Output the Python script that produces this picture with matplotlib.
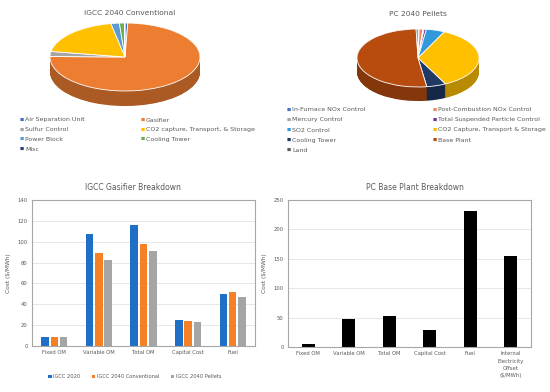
import numpy as np
import matplotlib
matplotlib.use("Agg")
import matplotlib.pyplot as plt
from matplotlib.colors import to_rgb

# ---- data ----
igcc_labels = ["Air Separation Unit", "Gasifier", "Sulfur Control",
               "CO2 capture, Transport, & Storage", "Power Block",
               "Cooling Tower", "Misc"]
igcc_share = [0.6, 74.7, 2.4, 19.4, 1.8, 1.1, 0.1]
igcc_colors = ["#4472C4", "#ED7D31", "#A5A5A5", "#FFC000", "#5B9BD5",
               "#70AD47", "#264478"]

pc_labels = ["In-Furnace NOx Control", "Post-Combustion NOx Control",
             "Mercury Control", "Total Suspended Particle Control",
             "SO2 Control", "CO2 Capture, Transport & Storage",
             "Cooling Tower", "Base Plant", "Land"]
pc_share = [0.3, 1.0, 0.3, 0.6, 4.9, 35.5, 5.1, 51.8, 0.5]
pc_colors = ["#4472C4", "#F08A5D", "#A5A5A5", "#7030A0", "#3399DD",
             "#FFC000", "#1F3864", "#B84C0F", "#595959"]

gas_cats = ["Fixed OM", "Variable OM", "Total OM", "Capital Cost", "Fuel"]
gas_series = ["IGCC 2020", "IGCC 2040 Conventional", "IGCC 2040 Pellets"]
gas_2020 = [9, 107, 116, 25, 50]
gas_2040_conv = [9, 89, 98, 24, 52]
gas_2040_pel = [9, 82, 91, 23, 47]
gas_colors = ["#1F6FC6", "#F58025", "#A5A5A5"]

pc_cats = ["Fixed OM", "Variable OM", "Total OM", "Capital Cost", "Fuel",
           "Internal\nElectricity\nOffset\n($/MWh)"]
pc_cost = [5, 47, 53, 29, 232, 155]

TXT = "#595959"
W, H = 550, 392
fig = plt.figure(figsize=(5.5, 3.92), dpi=100)


def box(l, t, r, b):
    return [l / W, 1 - b / H, (r - l) / W, (b - t) / H]


def pie3d(rect, cx, cy, rx, ry, depth, vals, cols):
    l, t, r, b = rect
    ax = fig.add_axes(box(l, t, r, b))
    dark = [tuple(c * 0.72 for c in to_rgb(col)) for col in cols]
    d = depth / ry
    for k in np.linspace(d, 0.01, 30):
        ax.pie(vals, colors=dark, center=(0, -k), radius=1, startangle=90,
               counterclock=False, wedgeprops=dict(linewidth=0))
    ax.pie(vals, colors=cols, center=(0, 0), radius=1, startangle=90,
           counterclock=False, wedgeprops=dict(linewidth=0.6, edgecolor="white"))
    ax.set_aspect("auto")
    ax.set_xlim((l - cx) / rx, (r - cx) / rx)
    ax.set_ylim(-(b - cy) / ry, (cy - t) / ry)
    ax.axis("off")


def grid_legend(labels, cols, x0, x1, y0, dy):
    for i, (lab, c) in enumerate(zip(labels, cols)):
        x = x0 if i % 2 == 0 else x1
        y = y0 + (i // 2) * dy
        fig.text(x / W, 1 - y / H, "■", color=c, fontsize=3.2, va="center")
        fig.text((x + 5) / W, 1 - y / H, lab, color=TXT, fontsize=4.5, va="center")


# ---- pies ----
fig.text(130 / W, 1 - 13 / H, "IGCC 2040 Conventional", color=TXT, fontsize=5.4,
         ha="center", va="center")
pie3d((45, 18, 205, 118), 125, 57, 75, 34, 15, igcc_share, igcc_colors)
grid_legend(igcc_labels, igcc_colors, 20, 141, 120, 9.7)

fig.text(418 / W, 1 - 14 / H, "PC 2040 Pellets", color=TXT, fontsize=5.4,
         ha="center", va="center")
pie3d((350, 22, 486, 106), 418, 58, 61, 29, 14, pc_share, pc_colors)
grid_legend(pc_labels, pc_colors, 287, 433, 110, 10)


def style(ax):
    for s in ax.spines.values():
        s.set_color("#A6A6A6")
        s.set_linewidth(0.8)
    ax.tick_params(length=0, labelsize=3.8, colors=TXT, pad=3)
    ax.grid(axis="y", color="#E3E3E3", linewidth=0.6)
    ax.set_axisbelow(True)
    ax.set_ylabel("Cost ($/MWh)", fontsize=4.2, color=TXT, labelpad=5)


# ---- IGCC gasifier bars ----
ax3 = fig.add_axes(box(32, 200, 255, 346))
x = np.arange(len(gas_cats))
for i, (vals, name) in enumerate(zip([gas_2020, gas_2040_conv, gas_2040_pel], gas_series)):
    ax3.bar(x + (i - 1) * 0.21, vals, width=0.17, color=gas_colors[i], label=name)
ax3.set_xticks(x)
ax3.set_xticklabels(gas_cats)
ax3.set_xlim(-0.5, len(gas_cats) - 0.5)
ax3.set_ylim(0, 140)
ax3.set_yticks(range(0, 141, 20))
style(ax3)
ax3.legend(loc="center", bbox_to_anchor=(0.46, -0.21), ncol=3, frameon=False,
           fontsize=3.7, handlelength=0.7, handleheight=0.7, handletextpad=0.3,
           columnspacing=2.2, labelcolor=TXT)
fig.text(133 / W, 1 - 187 / H, "IGCC Gasifier Breakdown", color=TXT, fontsize=5.5,
         ha="center", va="center")

# ---- PC base plant bars ----
ax4 = fig.add_axes(box(288, 200, 531, 347))
x = np.arange(len(pc_cats))
ax4.bar(x, pc_cost, width=0.32, color="black")
ax4.set_xticks(x)
ax4.set_xticklabels(pc_cats, va="top", linespacing=1.6)
ax4.set_xlim(-0.5, len(pc_cats) - 0.5)
ax4.set_ylim(0, 250)
ax4.set_yticks(range(0, 251, 50))
style(ax4)
fig.text(415 / W, 1 - 187 / H, "PC Base Plant Breakdown", color=TXT, fontsize=5.5,
         ha="center", va="center")

fig.savefig("out.png", dpi=100)
